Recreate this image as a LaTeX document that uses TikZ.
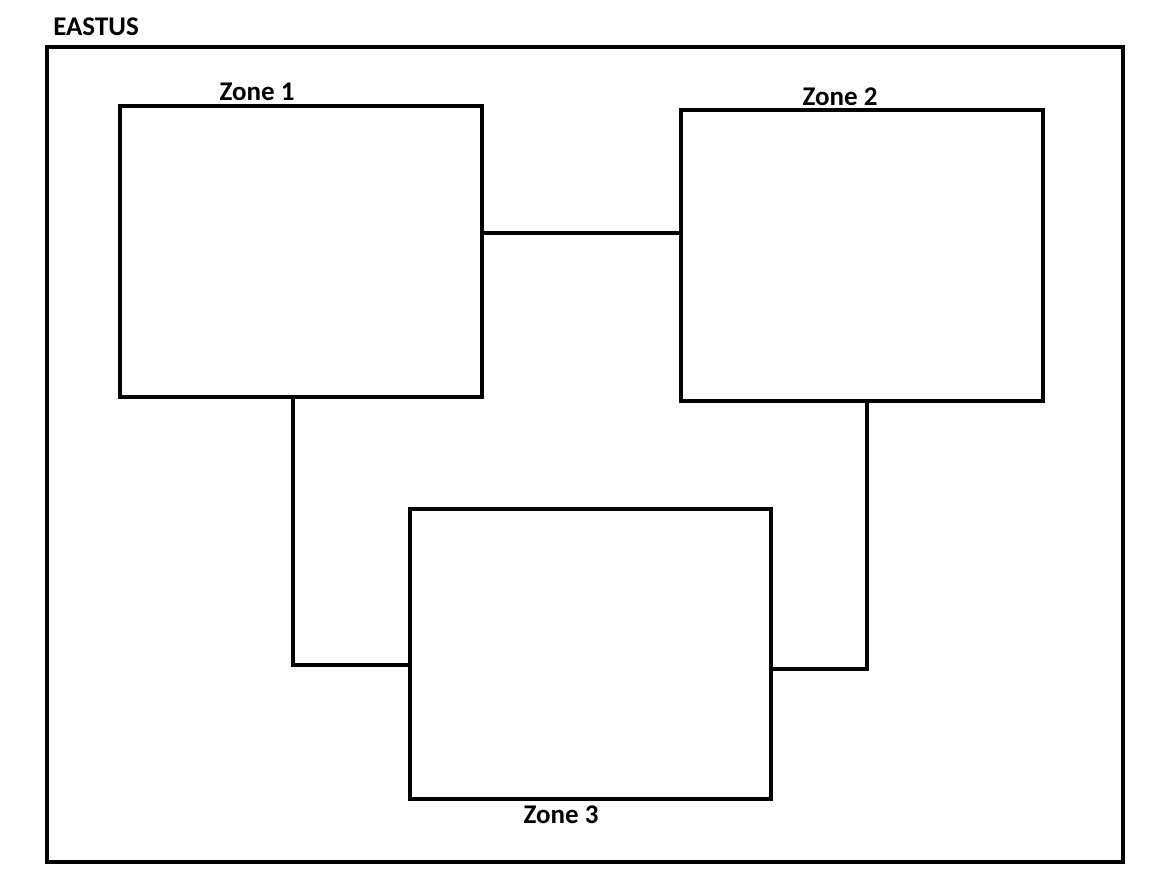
\documentclass[tikz,border=0pt]{standalone}
\usepackage{fontspec}
\setmainfont{Carlito}
\begin{document}
\begin{tikzpicture}[x=1pt,y=-1pt,
  box/.style={draw=black,line width=3.2pt,fill=none,inner sep=0pt},
  conn/.style={draw=black,line width=3.2pt},
  lbl/.style={font=\fontsize{27}{31}\selectfont\bfseries,anchor=base,inner sep=0pt}]
\useasboundingbox (0,0) rectangle (1167,883);
\node[box,minimum width=1076pt,minimum height=815pt] (region) at (585,454.5) {};
\node[box,minimum width=362pt,minimum height=291pt] (z1) at (301,251.5) {};
\node[box,minimum width=362pt,minimum height=291pt] (z2) at (862,255.5) {};
\node[box,minimum width=361pt,minimum height=290pt] (z3) at (590.5,654) {};
\node[lbl] (tregion) at (96,36) {EASTUS};
\node[lbl] (t1) at (257,100) {Zone 1};
\node[lbl] (t2) at (840,105) {Zone 2};
\node[lbl] (t3) at (561,823) {Zone 3};
\draw[conn] (z1.east |- 0,233) -- (z2.west |- 0,233);
\draw[conn] (z1.south -| 293,0) |- (z3.west |- 0,665);
\draw[conn] (z2.south -| 867,0) |- (z3.east |- 0,669);
\end{tikzpicture}
\end{document}
